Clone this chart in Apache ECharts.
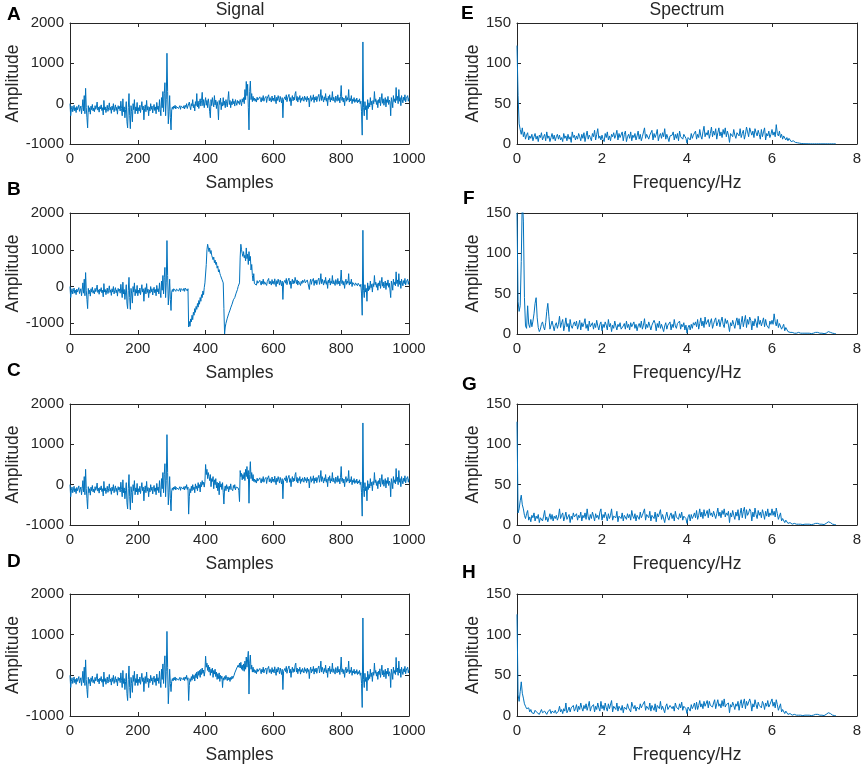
<!DOCTYPE html>
<html>
<head>
<meta charset="utf-8">
<script src="https://cdn.jsdelivr.net/npm/echarts@6/dist/echarts.min.js"></script>
<style>
html,body{margin:0;padding:0;background:#fff;}
#chart{width:865px;height:768px;}
</style>
</head>
<body>
<div id="chart"></div>
<script>
// ---------- DATA ----------
// Signals: one value every 2 samples, samples 0..1000
const sampleStep = 2;
const signalA = [
0,-300,-150,-60,-200,-130,-40,-180,-100,-220,-70,-150,-110,-30,-190,-120,-60,-250,-90,100,-180,200,-250,380,-100,
-350,-600,-50,-200,-100,-260,-60,-150,-20,-180,-110,-200,-50,-140,-80,40,-160,-90,-210,-70,-130,-30,-170,-100,-280,
80,-150,-80,-220,-120,-40,-190,-100,20,-160,-90,-240,-60,-150,0,-200,-110,-30,-170,-90,-260,-50,-130,-70,-180,
60,-120,-300,120,-200,-80,-350,-150,50,-450,-600,-100,250,-300,-620,-50,-200,-450,0,-150,100,-250,-80,-180,30,
-250,-100,-180,-40,-220,-90,50,-150,-60,-400,-120,-30,-200,80,-160,-70,-300,-90,-180,0,-140,-60,-230,-100,-20,
-170,-80,-250,30,-140,-60,-200,100,-150,-300,150,-100,300,-200,250,520,-300,100,1250,300,-500,-200,200,-350,-650,
-150,-80,-140,-60,-110,-40,-130,-70,-100,-30,-120,-80,-50,-140,-60,-90,-20,-110,-50,-130,-40,-90,0,-120,-60,
-100,40,-80,-150,0,-60,100,-100,-20,-180,50,-50,250,-80,60,-120,30,120,-60,80,280,-50,100,-100,40,
150,-40,80,-100,120,0,-200,-350,100,-50,150,20,-80,200,-30,90,-120,50,-60,-400,80,-20,140,-150,30,
-60,150,-40,60,-100,100,0,-80,120,300,-20,80,-100,50,-30,120,0,60,-60,100,20,-40,80,10,60,
-20,100,30,-50,120,40,150,0,350,100,550,200,480,-100,-650,300,560,100,250,50,180,80,140,60,120,
40,160,90,130,50,170,100,40,150,80,200,60,130,90,180,30,140,100,220,70,150,110,40,190,80,
140,60,210,90,0,160,80,200,120,40,180,100,20,150,-350,100,60,170,90,220,50,140,100,230,60,
150,-50,120,200,70,160,90,250,300,80,180,40,150,100,200,30,140,80,170,110,60,190,100,150,50,
180,90,140,-80,120,200,60,150,100,220,30,160,90,180,50,140,100,230,60,150,350,80,200,120,40,
170,90,250,60,140,-50,180,100,220,40,150,90,300,70,160,100,30,190,120,60,220,80,150,20,180,
450,80,160,40,140,-50,120,200,60,150,90,350,40,130,70,200,0,110,60,150,30,100,50,140,20,
90,40,120,0,60,-200,-780,1530,-100,-300,50,-150,-50,-400,100,-120,20,-80,150,-30,60,-150,80,0,300,
50,120,-20,80,-100,100,20,160,-50,90,250,10,120,-40,60,150,-80,100,30,180,-20,90,40,-300,150,
60,-100,200,50,120,20,400,80,180,0,350,60,150,-50,200,100,20,160,80,220,40,130,90,200,60,
150
];
const signalB = [
0,-300,-150,-60,-200,-130,-40,-180,-100,-220,-70,-150,-110,-30,-190,-120,-60,-250,-90,100,-180,200,-250,380,-100,
-350,-600,-50,-200,-100,-260,-60,-150,-20,-180,-110,-200,-50,-140,-80,40,-160,-90,-210,-70,-130,-30,-170,-100,-280,
80,-150,-80,-220,-120,-40,-190,-100,20,-160,-90,-240,-60,-150,0,-200,-110,-30,-170,-90,-260,-50,-130,-70,-180,
60,-120,-300,120,-200,-80,-350,-150,50,-450,-600,-100,250,-300,-620,-50,-200,-450,0,-150,100,-250,-80,-180,30,
-250,-100,-180,-40,-220,-90,50,-150,-60,-400,-120,-30,-200,80,-160,-70,-300,-90,-180,0,-140,-60,-230,-100,-20,
-170,-80,-250,30,-140,-60,-200,100,-150,-300,150,-100,300,-200,250,520,-300,100,1250,300,-500,-200,200,-350,-650,
-150,-80,-140,-60,-110,-40,-130,-70,-100,-30,-120,-80,-50,-140,-60,-90,-20,-110,-50,-130,-40,-90,0,-120,-60,
-1100,-950,-1080,-880,-960,-780,-900,-700,-780,-600,-700,-540,-620,-460,-560,-380,-480,-300,-400,-220,-300,-120,-220,-30,100,
50,600,1000,1150,1200,950,1050,900,980,850,900,730,800,650,720,600,660,500,560,400,460,360,300,340,200,
250,100,-600,-1290,-1100,-1000,-950,-860,-900,-740,-700,-640,-580,-620,-480,-420,-360,-400,-300,-250,-180,-200,-80,0,-50,
100,800,1150,1000,900,820,950,780,850,700,1050,760,880,600,950,700,820,450,600,300,150,350,80,120,60,
40,160,90,130,50,170,100,40,150,80,200,60,130,90,180,30,140,100,220,70,150,110,40,190,80,
140,60,210,90,0,160,80,200,120,40,180,100,20,150,-350,100,60,170,90,220,50,140,100,230,60,
150,-50,120,200,70,160,90,250,300,80,180,40,150,100,200,30,140,80,170,110,60,190,100,150,50,
180,90,140,-80,120,200,60,150,100,220,30,160,90,180,50,140,100,230,60,150,350,80,200,120,40,
170,90,250,60,140,-50,180,100,220,40,150,90,300,70,160,100,30,190,120,60,220,80,150,20,180,
450,80,160,40,140,-50,120,200,60,150,90,350,40,130,70,200,0,110,60,150,30,100,50,140,20,
90,40,120,0,60,-200,-780,1530,-100,-300,50,-150,-50,-400,100,-120,20,-80,150,-30,60,-150,80,0,300,
50,120,-20,80,-100,100,20,160,-50,90,250,10,120,-40,60,150,-80,100,30,180,-20,90,40,-300,150,
60,-100,200,50,120,20,400,80,180,0,350,60,150,-50,200,100,20,160,80,220,40,130,90,200,60,
150
];
const signalC = [
0,-300,-150,-60,-200,-130,-40,-180,-100,-220,-70,-150,-110,-30,-190,-120,-60,-250,-90,100,-180,200,-250,380,-100,
-350,-600,-50,-200,-100,-260,-60,-150,-20,-180,-110,-200,-50,-140,-80,40,-160,-90,-210,-70,-130,-30,-170,-100,-280,
80,-150,-80,-220,-120,-40,-190,-100,20,-160,-90,-240,-60,-150,0,-200,-110,-30,-170,-90,-260,-50,-130,-70,-180,
60,-120,-300,120,-200,-80,-350,-150,50,-450,-600,-100,250,-300,-620,-50,-200,-450,0,-150,100,-250,-80,-180,30,
-250,-100,-180,-40,-220,-90,50,-150,-60,-400,-120,-30,-200,80,-160,-70,-300,-90,-180,0,-140,-60,-230,-100,-20,
-170,-80,-250,30,-140,-60,-200,100,-150,-300,150,-100,300,-200,250,520,-300,100,1240,300,-500,-200,200,-350,-650,
-150,-80,-140,-60,-110,-40,-130,-70,-100,-30,-120,-80,-50,-140,-60,-90,-20,-110,-50,-130,-40,-90,0,-120,-60,
-730,-300,-100,-200,-40,-150,0,-120,-60,-200,20,-100,-30,-150,50,-80,0,-180,60,-50,100,0,60,-60,80,
500,250,380,150,300,200,100,250,-50,150,80,200,-100,120,0,150,-80,60,-150,40,-250,80,-60,20,-120,
50,-200,-480,-100,-30,-150,0,-100,-50,-180,-40,-120,20,-100,-60,-150,-20,-90,0,-130,-60,-100,-20,-80,-150,
-420,350,200,280,120,250,150,300,100,380,200,450,150,350,-460,250,570,150,300,100,250,80,140,60,120,
40,160,90,130,50,170,100,40,150,80,200,60,130,90,180,30,140,100,220,70,150,110,40,190,80,
140,60,210,90,0,160,80,200,120,40,180,100,20,150,-350,100,60,170,90,220,50,140,100,230,60,
150,-50,120,200,70,160,90,250,300,80,180,40,150,100,200,30,140,80,170,110,60,190,100,150,50,
180,90,140,-80,120,200,60,150,100,220,30,160,90,180,50,140,100,230,60,150,350,80,200,120,40,
170,90,250,60,140,-50,180,100,220,40,150,90,300,70,160,100,30,190,120,60,220,80,150,20,180,
450,80,160,40,140,-50,120,200,60,150,90,350,40,130,70,200,0,110,60,150,30,100,50,140,20,
90,40,120,0,60,-200,-780,1530,-100,-300,50,-150,-50,-400,100,-120,20,-80,150,-30,60,-150,80,0,300,
50,120,-20,80,-100,100,20,160,-50,90,250,10,120,-40,60,150,-80,100,30,180,-20,90,40,-300,150,
60,-100,200,50,120,20,400,80,180,0,350,60,150,-50,200,100,20,160,80,220,40,130,90,200,60,
150
];
const signalD = [
0,-300,-150,-60,-200,-130,-40,-180,-100,-220,-70,-150,-110,-30,-190,-120,-60,-250,-90,100,-180,200,-250,380,-100,
-350,-550,-50,-200,-100,-260,-60,-150,-20,-180,-110,-200,-50,-140,-80,40,-160,-90,-210,-70,-130,-30,-170,-100,-280,
80,-150,-80,-220,-120,-40,-190,-100,20,-160,-90,-240,-60,-150,0,-200,-110,-30,-170,-90,-260,-50,-130,-70,-180,
60,-120,-300,120,-200,-80,-350,-150,50,-450,-620,-100,230,-300,-560,-50,-200,-420,0,-150,100,-250,-80,-180,30,
-250,-100,-180,-40,-220,-90,50,-150,-60,-400,-120,-30,-200,80,-160,-70,-300,-90,-180,0,-140,-60,-230,-100,-20,
-170,-80,-250,30,-140,-60,-200,100,-150,-300,150,-100,280,-200,250,480,-300,100,1080,200,-700,-300,150,-200,-400,
-150,-80,-140,-60,-110,-40,-130,-70,-100,-30,-120,-80,-50,-140,-60,-90,-20,-110,-50,-130,-40,-90,0,-120,-60,
-620,-250,-80,-150,-30,-120,20,-80,0,-140,40,-60,80,-90,100,0,120,-50,150,20,180,50,130,-20,100,
470,200,300,120,250,80,200,0,150,60,180,-50,120,30,150,-30,80,-100,40,-80,60,-150,0,-80,-20,
-300,-60,-120,-30,-100,0,-80,-130,-40,-110,-60,-150,-50,-100,-20,-80,-40,0,60,100,80,180,150,250,200,
300,180,320,150,250,120,280,100,350,150,450,200,400,590,-460,300,500,150,250,80,200,80,140,60,120,
40,160,90,130,50,170,100,40,150,80,200,60,130,90,180,30,140,100,220,70,150,110,40,190,80,
140,60,210,90,0,160,80,200,120,40,180,100,20,150,-350,100,60,170,90,220,50,140,100,230,60,
150,-50,120,200,70,160,90,250,300,80,180,40,150,100,200,30,140,80,170,110,60,190,100,150,50,
180,90,140,-80,120,200,60,150,100,220,30,160,90,180,50,140,100,230,60,150,350,80,200,120,40,
170,90,250,60,140,-50,180,100,220,40,150,90,300,70,160,100,30,190,120,60,220,80,150,20,180,
450,80,160,40,140,-50,120,200,60,150,90,350,40,130,70,200,0,110,60,150,30,100,50,140,20,
90,40,120,0,60,-200,-790,1410,-100,-300,50,-150,-50,-380,100,-120,20,-80,150,-30,60,-150,80,0,300,
50,120,-20,80,-100,100,20,160,-50,90,250,10,120,-40,60,150,-80,100,30,180,-20,90,40,-300,150,
60,-100,200,50,120,20,440,80,180,0,350,60,150,-50,200,100,20,160,80,220,40,130,90,200,60,
140
];

// Spectra: one value every 0.025 Hz, 0..7.5 Hz
const freqStep = 0.025;
const spectrumE = [
122,60,25,18,12,20,9,15,6,11,14,5,10,7,12,4,9,13,6,10,3,11,8,14,5,9,12,4,15,7,10,3,8,13,6,11,4,9,12,6,
11,5,8,3,13,7,10,4,12,6,9,2,15,8,11,5,10,6,13,9,4,12,7,14,3,10,16,6,11,8,4,13,9,17,5,12,19,7,10,5,
11,6,3,13,8,15,5,10,4,12,9,14,7,11,17,5,13,8,10,15,4,12,16,3,9,12,7,15,4,11,8,13,5,10,16,6,12,4,9,8,
20,7,12,14,6,11,9,17,5,13,8,12,18,4,10,13,7,14,9,19,6,12,14,3,10,8,11,15,5,12,7,13,4,16,9,11,6,12,14,7,
1,8,10,5,13,7,11,9,16,6,12,8,18,10,6,15,22,9,14,11,17,7,13,21,9,16,11,19,6,14,20,10,15,8,18,12,20,9,16,11,
2,13,15,9,18,11,7,14,16,10,19,8,13,17,6,12,21,15,9,20,22,11,16,8,19,14,10,17,12,6,18,9,15,20,5,13,10,16,8,12,
18,11,15,9,24,13,10,16,8,12,6,10,9,5,8,4,7,6,3,5,4,3,2,2,1.5,1,1,0.8,0.6,0.5,0.4,0.4,0.3,0.3,0.3,0.2,0.2,0.2,0.2,0.2,
0.2,0.2,0.2,0.2,0.2,0.2,0.2,0.2,0.2,0.2,0.2,0.2,0.2,0.2,0.2,0.2,0.2,0.2,0.2,0.2,0.2
];
const spectrumF = [
150,40,28,35,90,170,140,45,10,7,35,12,8,18,9,16,25,38,45,20,8,3,6,12,15,9,5,14,28,38,22,6,8,16,10,4,11,14,7,12,
22,8,14,18,4,11,20,9,13,3,18,10,7,12,15,10,16,6,11,17,5,14,9,13,19,7,12,4,16,9,11,14,6,13,8,17,10,5,12,15,
4,12,8,15,11,5,18,9,13,3,11,7,16,10,5,12,9,14,6,4,10,13,6,16,8,12,5,14,9,11,15,7,12,4,10,13,8,16,6,11,
19,6,12,8,15,10,5,11,9,17,13,4,13,8,16,7,12,14,3,10,14,6,11,9,15,5,12,8,18,10,7,13,11,16,6,12,9,14,5,11,
1,8,11,5,12,7,14,11,15,9,18,6,13,20,10,16,8,21,12,11,18,9,15,19,7,12,17,20,10,14,18,9,16,21,12,8,19,13,17,11,
3,14,10,17,12,7,15,20,11,19,6,14,22,9,16,23,8,18,12,21,17,5,16,10,19,14,8,22,12,17,10,15,20,9,18,11,13,7,16,12,
17,12,25,15,10,18,8,13,11,6,9,12,4,8,6,3,5,2,3,2,2,1,1,1,3,2,1,1,1,1,2,1,0.5,1,2,1,1,0.5,0.5,1,
1,2,4,2,1,1,0.5,1,1,0.5,1,1,2,3,4,2,1,1,0.5,0.5,0.5
];
const spectrumG = [
128,15,20,30,37,25,20,12,8,14,18,6,10,4,12,9,15,5,11,8,13,3,9,7,5,11,18,6,10,4,9,14,7,13,5,11,8,12,6,10,
20,8,12,15,5,10,16,7,9,13,3,11,7,15,10,8,14,6,12,9,16,5,12,9,15,7,20,10,6,13,8,16,11,5,14,9,12,7,16,20,
6,13,9,16,11,5,14,8,12,20,6,11,12,9,17,4,11,13,8,15,5,12,10,7,14,9,13,6,18,11,8,14,5,12,10,7,16,9,12,14,
20,6,13,11,9,17,5,12,14,8,16,4,14,10,8,19,7,13,11,3,11,16,9,6,12,15,8,13,5,17,10,12,7,14,9,16,6,11,13,8,
2,10,13,5,13,8,11,15,9,18,7,12,20,10,16,8,19,11,14,18,9,20,12,15,10,17,19,8,14,21,11,16,9,18,13,20,10,15,12,17,
3,15,10,18,12,7,16,11,19,6,14,21,9,17,22,8,19,12,15,20,17,5,16,10,21,13,8,18,12,16,9,19,14,7,17,11,20,10,15,12,
20,12,17,10,21,14,7,11,15,5,8,10,3,6,5,2,4,3,2,1,1,2,1,1,3,1,2,1,1,0.5,1,1,2,1,0.5,1,1,0.5,1,1,
1,2,3,2,1,1,0.5,1,1,0.5,1,2,3,4,2,3,1,1,0.5,0.5,0.5
];
const spectrumH = [
125,26,18,30,42,28,22,15,12,9,7,10,5,8,4,6,3,7,5,4,6,2,5,8,4,3,6,7,2,5,4,8,3,6,5,4,7,3,5,6,
12,5,8,3,9,6,16,4,7,11,5,10,8,13,6,9,14,5,12,8,16,10,6,13,9,15,7,12,18,6,11,9,14,5,12,8,16,10,6,18,
9,13,7,16,10,6,15,9,11,19,5,12,10,8,16,6,12,14,7,13,4,11,9,8,15,10,12,5,17,12,9,13,6,11,9,8,15,10,13,12,
18,7,12,10,8,16,6,13,15,7,15,5,13,11,9,18,8,12,10,4,12,15,8,7,13,14,9,12,6,16,11,13,8,15,10,17,7,12,14,9,
3,11,12,6,14,9,12,16,8,17,8,13,19,11,15,9,18,12,13,19,10,18,13,14,11,16,20,9,15,20,12,15,10,19,12,21,11,14,13,16,
4,14,11,17,13,8,15,12,18,7,15,20,10,16,21,9,18,13,14,21,16,6,15,11,20,14,9,17,13,15,10,18,15,8,16,12,19,11,14,13,
21,12,17,10,20,14,7,11,15,5,8,10,3,6,5,2,4,3,2,1,1,2,1,1,3,1,2,1,1,0.5,1,1,2,1,0.5,1,1,0.5,1,1,
1,2,3,2,1,1,0.5,1,1,0.5,1,2,3,4,2,3,1,1,0.5,0.5,0.5
];

// Axis ticks
const signalXTicks = [0, 200, 400, 600, 800, 1000];
const signalYTicks = [-1000, 0, 1000, 2000];
const specXTicks = [0, 2, 4, 6, 8];
const specYTicks = [0, 50, 100, 150];

// ---------- LAYOUT ----------
const FONT = 'Arial, "Liberation Sans", sans-serif';
const AXC = '#262626';
const panels = [
  {letter:'A', data:signalA, step:sampleStep, kind:'sig', ymin:-1000, ymax:2000, g:{left:70, top:23, width:339, height:121}, lp:[7,15]},
  {letter:'B', data:signalB, step:sampleStep, kind:'sig', ymin:-1290, ymax:2000, g:{left:70, top:213, width:339, height:121}, lp:[7,190]},
  {letter:'C', data:signalC, step:sampleStep, kind:'sig', ymin:-1000, ymax:2000, g:{left:70, top:404, width:339, height:121}, lp:[7,371]},
  {letter:'D', data:signalD, step:sampleStep, kind:'sig', ymin:-1000, ymax:2000, g:{left:70, top:594, width:339, height:122}, lp:[7,562]},
  {letter:'E', data:spectrumE, step:freqStep, kind:'spec', ymin:0, ymax:150, g:{left:517, top:23, width:340, height:121}, lp:[461,14]},
  {letter:'F', data:spectrumF, step:freqStep, kind:'spec', ymin:0, ymax:150, g:{left:517, top:213, width:340, height:121}, lp:[463,199]},
  {letter:'G', data:spectrumG, step:freqStep, kind:'spec', ymin:0, ymax:150, g:{left:517, top:404, width:340, height:121}, lp:[462,385]},
  {letter:'H', data:spectrumH, step:freqStep, kind:'spec', ymin:0, ymax:150, g:{left:517, top:594, width:340, height:122}, lp:[462,573]}
];

const plain = v => String(v);
const grid = [], xAxis = [], yAxis = [], series = [], graphic = [];
panels.forEach((p, i) => {
  grid.push(Object.assign({containLabel:false}, p.g));
  const isSig = p.kind === 'sig';
  const xt = isSig ? signalXTicks : specXTicks;
  const yt = isSig ? signalYTicks : specYTicks;
  const xmin = xt[0], xmax = xt[xt.length - 1];
  const lineStyle = {color: AXC, width: 1};
  const tick = {inside: true, length: 4, lineStyle: {color: AXC, width: 1}};
  const baseX = {
    gridIndex: i, type: 'value', min: xmin, max: xmax,
    axisLine: {show: true, onZero: false, lineStyle},
    splitLine: {show: false}
  };
  xAxis.push(Object.assign({}, baseX, {
    position: 'bottom',
    axisTick: Object.assign({}, tick, {customValues: xt}),
    axisLabel: {show: true, customValues: xt, formatter: plain, fontSize: 15, color: AXC, fontFamily: FONT, margin: 7},
    name: isSig ? 'Samples' : 'Frequency/Hz', nameLocation: 'middle', nameGap: 30,
    nameTextStyle: {fontSize: 17.5, color: AXC, fontFamily: FONT}
  }));
  xAxis.push(Object.assign({}, baseX, {
    position: 'top',
    axisTick: Object.assign({}, tick, {customValues: xt}),
    axisLabel: {show: false}
  }));
  const baseY = {
    gridIndex: i, type: 'value', min: p.ymin, max: p.ymax,
    axisLine: {show: true, onZero: false, lineStyle},
    splitLine: {show: false}
  };
  yAxis.push(Object.assign({}, baseY, {
    position: 'left',
    axisTick: Object.assign({}, tick, {customValues: yt}),
    axisLabel: {show: true, customValues: yt, formatter: plain, fontSize: 15, color: AXC, fontFamily: FONT, margin: 6},
    name: 'Amplitude', nameLocation: 'middle', nameGap: isSig ? 47 : 34,
    nameTextStyle: {fontSize: 17.5, color: AXC, fontFamily: FONT}
  }));
  yAxis.push(Object.assign({}, baseY, {
    position: 'right',
    axisTick: Object.assign({}, tick, {customValues: yt}),
    axisLabel: {show: false}
  }));
  series.push({
    type: 'line', xAxisIndex: 2 * i, yAxisIndex: 2 * i,
    data: p.data.map((v, k) => [+(k * p.step).toFixed(3), v]),
    showSymbol: false, symbol: 'none', clip: true,
    lineStyle: {color: '#0072BD', width: 1}, itemStyle: {color: '#0072BD'},
    animation: false
  });
  graphic.push({
    type: 'text', x: p.lp[0], y: p.lp[1],
    style: {text: p.letter, fontSize: 19, fontWeight: 'bold', fontFamily: FONT, fill: '#000', verticalAlign: 'middle', align: 'left'}
  });
});
graphic.push({type:'text', x:240, y:10, style:{text:'Signal', fontSize:17.5, fontFamily:FONT, fill:AXC, align:'center', verticalAlign:'middle'}});
graphic.push({type:'text', x:687, y:10, style:{text:'Spectrum', fontSize:17.5, fontFamily:FONT, fill:AXC, align:'center', verticalAlign:'middle'}});

const chart = echarts.init(document.getElementById('chart'), null, {renderer: 'canvas'});
chart.setOption({
  backgroundColor: '#fff',
  animation: false,
  grid, xAxis, yAxis, series, graphic
});
</script>
</body>
</html>
